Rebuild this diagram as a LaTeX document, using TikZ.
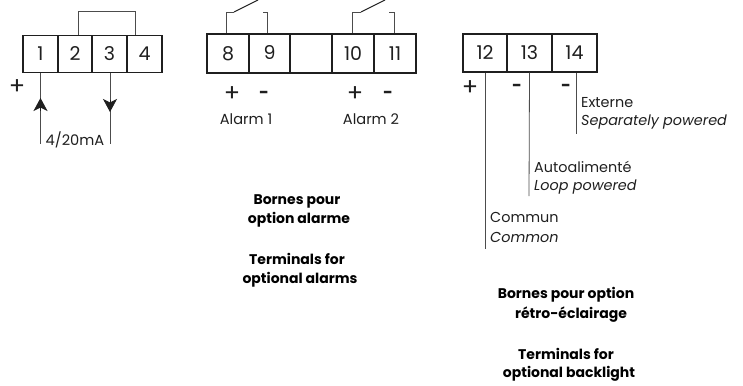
\documentclass[tikz,border=0pt]{standalone}
\usepackage{fontspec}
\setmainfont{Poppins}
\usetikzlibrary{arrows.meta,calc}
\definecolor{ink}{gray}{0.12}
\definecolor{wire}{gray}{0.3}
\tikzset{
  term/.style={draw=ink,line width=1.5pt,inner sep=0pt,minimum height=37pt,font=\fontsize{19}{22}\selectfont,text=ink},
  wireline/.style={draw=wire,line width=0.8pt},
  sign/.style={inner sep=0pt,font=\fontsize{24}{26}\selectfont,text=ink},
  msign/.style={inner sep=0pt,font=\fontsize{17}{20}\bfseries\selectfont,text=ink},
  lbl/.style={inner sep=0pt,anchor=west,font=\fontsize{14.4}{17}\selectfont,text=ink},
  clbl/.style={inner sep=0pt,font=\fontsize{14.6}{17}\selectfont,text=ink},
  bold/.style={inner sep=0pt,font=\fontsize{14}{17}\bfseries\selectfont,text=black},
  flow/.style={-{Stealth[length=13pt,width=14pt,inset=3.5pt]}},
}
\begin{document}
\begin{tikzpicture}[x=1pt,y=-1pt]
\useasboundingbox (0,0) rectangle (743,385);
% terminals 1-4
\node[term,minimum width=35pt] (t1) at (40.5,54) {1};
\node[term,minimum width=34pt] (t2) at (75,54) {2};
\node[term,minimum width=35pt] (t3) at (109.5,54) {3};
\node[term,minimum width=35pt] (t4) at (144.5,54) {4};
\coordinate (jt) at (78,11.5);
\draw[wireline] ([xshift=3pt]t2.north) -- (jt) -- (135.5,11.5) -- ([xshift=-9pt]t4.north);
\coordinate (a1) at (40.5,144);
\coordinate (a1m) at (40.5,98);
\coordinate (a3) at (110,144);
\coordinate (a3m) at (110,112);
\draw[wireline] (t1.south) -- (a1);
\draw[wireline] ([xshift=.5pt]t3.south) -- (a3);
\draw[flow,draw=ink,fill=ink,line width=.8pt] (40.5,111) -- (a1m);
\draw[flow,draw=ink,fill=ink,line width=.8pt] (110,100) -- (a3m);
\node[sign] (p1) at (17,87) {+};
\node[clbl] (ma) at (75,140) {4/20mA};
% terminals 8-11
\node[term,minimum width=42pt,minimum height=39pt] (t8) at (228,53.5) {8};
\node[term,minimum width=41pt,minimum height=39pt] (t9) at (269.5,53.5) {\raisebox{2pt}{9}};
\node[term,minimum width=42pt,minimum height=39pt] (tb) at (311,53.5) {};
\node[term,minimum width=42pt,minimum height=39pt] (t10) at (353,53.5) {10};
\node[term,minimum width=42pt,minimum height=39pt] (t11) at (395,53.5) {11};
\coordinate (r1a) at (234,12);
\coordinate (r1b) at (258,0);
\coordinate (r1c) at (263,12);
\coordinate (r2a) at (361,12);
\coordinate (r2b) at (385,0);
\coordinate (r2c) at (389,12);
\draw[wireline] ([xshift=-2pt]t8.north) |- (r1a);
\draw[draw=ink,line width=1.1pt] (r1a) -- (r1b);
\draw[wireline] (r1c) -| ([xshift=-2.5pt]t9.north);
\draw[wireline] ([xshift=-1pt]t10.north) |- (r2a);
\draw[draw=ink,line width=1.1pt] (r2a) -- (r2b);
\draw[wireline] (r2c) -| ([xshift=-1pt]t11.north);
\node[sign] (p8) at (232,94) {+};
\node[msign] (m9) at (264,95) {-};
\node[sign] (p10) at (355,94) {+};
\node[msign] (m11) at (388,95) {-};
\node[clbl] (al1) at (246,119) {Alarm 1};
\node[clbl] (al2) at (371,119) {Alarm 2};
% terminals 12-14
\node[term,minimum width=44pt,minimum height=38pt] (t12) at (485,53) {12};
\node[term,minimum width=45pt,minimum height=38pt] (t13) at (529.5,53) {13};
\node[term,minimum width=45pt,minimum height=38pt] (t14) at (574.5,53) {\raisebox{-1.5pt}{14}};
\coordinate (e12) at (485,249);
\coordinate (e13) at (529,196);
\coordinate (e14) at (576,134);
\draw[wireline] (t12.south) -- (e12);
\draw[wireline] (t13.south) -- (e13);
\draw[wireline] ([xshift=1.5pt]t14.south) -- (e14);
\node[sign] (p12) at (470,88) {+};
\node[msign] (m13) at (517,88) {-};
\node[msign] (m14) at (566,88) {-};
\node[lbl] (x1) at (581,103) {Externe};
\node[lbl] (x2) at (581,122) {\itshape Separately powered};
\node[lbl] (l1) at (534,167) {Autoalimenté};
\node[lbl] (l2) at (534,187) {\itshape Loop powered};
\node[lbl] (c1) at (490,217) {Commun};
\node[lbl] (c2) at (490,237) {\itshape Common};
% captions
\node[bold] (b1) at (297,201) {Bornes pour};
\node[bold] (b2) at (299,220) {option alarme};
\node[bold] (b3) at (297,259) {Terminals for};
\node[bold] (b4) at (300,280) {optional alarms};
\node[bold] (d1) at (566,295) {Bornes pour option};
\node[bold] (d2) at (571,315) {rétro-éclairage};
\node[bold] (d3) at (566,354) {Terminals for};
\node[bold] (d4) at (569,374) {optional backlight};
\end{tikzpicture}
\end{document}
